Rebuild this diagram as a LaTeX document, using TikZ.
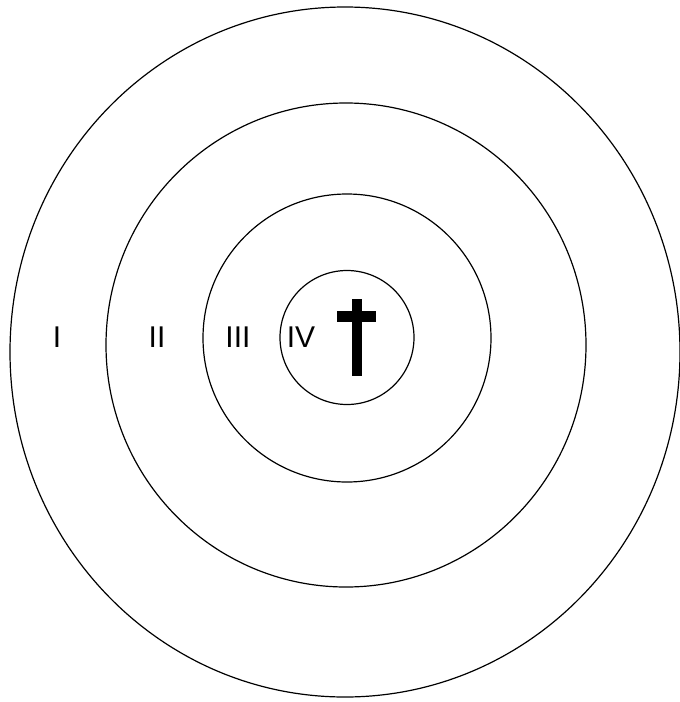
\documentclass[tikz,border=0pt]{standalone}
\usepackage{fontspec}
\setmainfont{Liberation Sans}
\usetikzlibrary{calc}

\begin{document}
\begin{tikzpicture}[x=1pt,y=-1pt,line width=1.2pt,
    ringlabel/.style={inner sep=0pt,font=\fontsize{30}{36}\selectfont}]
        \useasboundingbox (0,0) rectangle (680,702);
        % rings, outside in
        \draw (345,352) ellipse (335 and 345);
        \draw (346,345) ellipse (240 and 242);
        \draw (347,338) circle (144);
        \draw (347,337.5) circle (67);
        % labels
        \node[ringlabel] (one) at (57,337) {I};
        \node[ringlabel] (two) at (157,337) {II};
        \node[ringlabel] (three) at (238,337) {III};
        \node[ringlabel] (four) at (301,337) {IV};
        % cross
        \fill (352,299) rectangle (362,376);
        \fill (337,311) rectangle (376,322);
\end{tikzpicture}
\end{document}
